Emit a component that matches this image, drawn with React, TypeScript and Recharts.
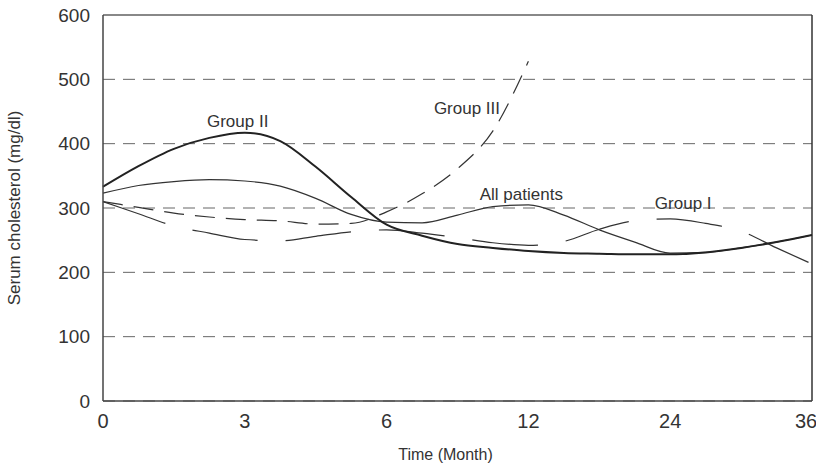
import { LineChart, Line, XAxis, YAxis, CartesianGrid, ReferenceLine, ReferenceDot } from 'recharts';

// labelled months on the x axis (drawn at equal spacing)
const monthTicks = [0, 3, 6, 12, 24, 36];
const valueTicks = [0, 100, 200, 300, 400, 500, 600];

const sampleMonths = [0, 0.75, 1.5, 2.25, 3, 3.75, 4.5, 5.25, 6, 7.5, 9, 10.5, 12, 15, 18, 21, 24, 27, 30, 33, 36];

const groupII = [333, 365, 392, 409, 417, 404, 364, 317, 274, 257, 244, 238, 233, 230, 229, 228, 228, 231, 238, 247, 258];
const allPatients = [323, 335, 341, 344, 342, 334, 315, 290, 278, 277, 289, 302, 305, 289, 266, 247, 230, 231, 238, 247, 258];
const groupI = [310, 291, 272, 261, 251, 249, 256, 263, 266, 261, 254, 246, 242, 248, 267, 280, 283, 276, 264, 238, 213];
const groupIII = [310, 301, 292, 286, 282, 280, 275, 276, 294, 322, 361, 420, 528, null, null, null, null, null, null, null, null];

const seriesLabels = [
  { text: 'Group II', month: 2.85, value: 435 },
  { text: 'Group III', month: 9.4, value: 455 },
  { text: 'All patients', month: 11.7, value: 322 },
  { text: 'Group I', month: 25.1, value: 308 },
];

// the axis spaces the labelled months evenly, so map month -> slot position
const toPos = (m: number) => {
  for (let i = 0; i < monthTicks.length - 1; i++) {
    const a = monthTicks[i];
    const b = monthTicks[i + 1];
    if (m <= b) return i + (m - a) / (b - a);
  }
  return monthTicks.length - 1;
};

const data = sampleMonths.map((m, i) => ({
  pos: toPos(m),
  groupI: groupI[i],
  groupII: groupII[i],
  groupIII: groupIII[i],
  allPatients: allPatients[i],
}));

const font = '"Liberation Sans", Arial, sans-serif';

export default function App() {
  return (
    <div style={{ position: 'absolute', left: 0, top: 0 }}>
      <LineChart
        width={816}
        height={474}
        data={data}
        margin={{ top: 15, right: 4, left: 0, bottom: 0 }}
        style={{ fontFamily: font }}
      >
        <CartesianGrid vertical={false} stroke="#666" strokeDasharray="12 8" />
        <XAxis
          type="number"
          dataKey="pos"
          domain={[0, 5]}
          ticks={[0, 1, 2, 3, 4, 5]}
          tickFormatter={(i: number) => String(monthTicks[i])}
          height={73}
          axisLine={{ stroke: '#444', strokeWidth: 1.5 }}
          tickLine={false}
          tickSize={0}
          tickMargin={13}
          tick={{ fill: '#333', fontSize: 20 }}
          label={{ value: 'Time (Month)', position: 'insideBottom', offset: 14, dx: -12, fill: '#333', fontSize: 16 }}
        />
        <YAxis
          domain={[0, 600]}
          ticks={valueTicks}
          width={103}
          axisLine={{ stroke: '#444', strokeWidth: 1.5 }}
          tickLine={false}
          tickSize={0}
          tickMargin={13}
          tick={{ fill: '#333', fontSize: 19 }}
          label={{
            value: 'Serum cholesterol (mg/dl)',
            angle: -90,
            position: 'insideLeft',
            offset: 14,
            fill: '#333',
            fontSize: 17,
            style: { textAnchor: 'middle' },
          }}
        />
        <ReferenceLine y={600} stroke="#888" strokeWidth={2} />
        <ReferenceLine x={5} stroke="#333" strokeWidth={1.5} />
        <Line type="monotone" dataKey="groupIII" stroke="#333" strokeWidth={1.2} strokeDasharray="20 11" dot={false} isAnimationActive={false} />
        <Line type="monotone" dataKey="groupI" stroke="#333" strokeWidth={1.2} strokeDasharray="66 28" dot={false} isAnimationActive={false} />
        <Line type="monotone" dataKey="allPatients" stroke="#333" strokeWidth={1.2} dot={false} isAnimationActive={false} />
        <Line type="monotone" dataKey="groupII" stroke="#222" strokeWidth={2} dot={false} isAnimationActive={false} />
        {seriesLabels.map((l) => (
          <ReferenceDot
            key={l.text}
            x={toPos(l.month)}
            y={l.value}
            r={0}
            fill="none"
            stroke="none"
            label={{ value: l.text, position: 'center', fill: '#333', fontSize: 17 }}
          />
        ))}
      </LineChart>
    </div>
  );
}
